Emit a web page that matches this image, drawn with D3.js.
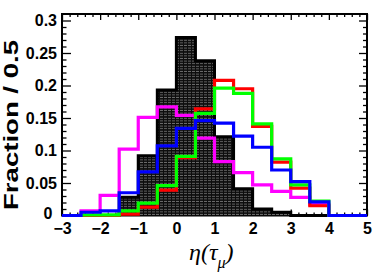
<!DOCTYPE html>
<html>
<head>
<meta charset="utf-8">
<script src="https://cdn.jsdelivr.net/npm/d3@7"></script>
<style>
  html, body { margin: 0; padding: 0; background: #fff; }
  svg { display: block; }
</style>
</head>
<body>
<svg id="chart" width="382" height="273"></svg>
<script>
// ---- data ----
const binEdges = [-3, -2.5, -2, -1.5, -1, -0.5, 0, 0.5, 1, 1.5, 2, 2.5, 3, 3.5, 4, 4.5, 5];
const blackHist = [0, 0, 0, 0.028, 0.092, 0.193, 0.274, 0.238, 0.121, 0.041, 0.010, 0.005, 0, 0, 0, 0];
const magentaHist = [0, 0.007, 0.031, 0.102, 0.151, 0.167, 0.154, 0.119, 0.083, 0.066, 0.047, 0.037, 0.028, 0.017, 0, 0];
const redHist = [0, 0, 0, 0.002, 0.013, 0.039, 0.089, 0.164, 0.208, 0.195, 0.137, 0.082, 0.042, 0.015, 0, 0];
const greenHist = [0, 0.001, 0.001, 0.007, 0.019, 0.046, 0.091, 0.157, 0.196, 0.188, 0.141, 0.087, 0.047, 0.022, 0, 0];
const blueHist = [0, 0.005, 0.007, 0.035, 0.067, 0.107, 0.134, 0.146, 0.142, 0.122, 0.105, 0.070, 0.052, 0.021, 0, 0];

const xMajorTicks = [-3, -2, -1, 0, 1, 2, 3, 4, 5];
const xTickLabels = ["\u22123", "\u22122", "\u22121", "0", "1", "2", "3", "4", "5"];
const yMajorTicks = [0, 0.05, 0.1, 0.15, 0.2, 0.25, 0.3];
const yTickLabels = ["0", "0.05", "0.1", "0.15", "0.2", "0.25", "0.3"];

// ---- layout ----
const L = 62, R = 367, T = 14, B = 215.5;
const svg = d3.select("#chart");
const x = d3.scaleLinear().domain([-3, 5]).range([L, R]);
const y = d3.scaleLinear().domain([0, 0.31]).range([B, T]);

const xMinor = d3.range(-3, 5.0001, 0.2).filter(v => Math.abs(v - Math.round(v)) > 1e-6);
const yMinor = d3.range(0, 0.305, 0.01).filter(v => Math.abs(v * 20 - Math.round(v * 20)) > 1e-6);

// pattern for black histogram
const defs = svg.append("defs");
const pat = defs.append("pattern").attr("id", "hatch")
  .attr("patternUnits", "userSpaceOnUse").attr("width", 4).attr("height", 2.6);
pat.append("rect").attr("width", 4).attr("height", 2.6).attr("fill", "#0d0d0d");
pat.append("rect").attr("x", 0).attr("y", 0.8).attr("width", 3).attr("height", 0.8).attr("fill", "#7a7a7a");

// frame
svg.append("rect").attr("x", L).attr("y", T).attr("width", R - L).attr("height", B - T)
  .attr("fill", "none").attr("stroke", "#000").attr("stroke-width", 2);

const fontAxis = "'Liberation Sans', Arial, Helvetica, sans-serif";

function styleAxis(g) {
  g.select(".domain").remove();
  g.selectAll(".tick line").attr("stroke", "#000").attr("stroke-width", 1.3);
  g.selectAll("text").attr("font-family", fontAxis).attr("font-size", 16)
    .attr("font-weight", "bold").attr("fill", "#000");
}

// left axis
const leftAxis = svg.append("g").attr("transform", `translate(${L},0)`)
  .call(d3.axisLeft(y).tickValues(yMajorTicks).tickSize(-9).tickPadding(5)
    .tickFormat((d, i) => yTickLabels[i]))
  .call(styleAxis);
// keep the "0" label clear of the "−3" label below it
leftAxis.selectAll(".tick text").filter(d => d === 0)
  .attr("x", -9.5).attr("dy", "0.2em");
svg.append("g").attr("transform", `translate(${L},0)`)
  .call(d3.axisLeft(y).tickValues(yMinor).tickSize(-4.5).tickFormat(""))
  .call(styleAxis);
// right axis
svg.append("g").attr("transform", `translate(${R},0)`)
  .call(d3.axisLeft(y).tickValues(yMajorTicks).tickSize(8).tickFormat(""))
  .call(styleAxis);
svg.append("g").attr("transform", `translate(${R},0)`)
  .call(d3.axisLeft(y).tickValues(yMinor).tickSize(4).tickFormat(""))
  .call(styleAxis);
// bottom axis
svg.append("g").attr("transform", `translate(0,${B})`)
  .call(d3.axisBottom(x).tickValues(xMajorTicks).tickSize(-6).tickPadding(7)
    .tickFormat((d, i) => xTickLabels[i]))
  .call(styleAxis);
svg.append("g").attr("transform", `translate(0,${B})`)
  .call(d3.axisBottom(x).tickValues(xMinor).tickSize(-3).tickFormat(""))
  .call(styleAxis);
// top axis
svg.append("g").attr("transform", `translate(0,${T})`)
  .call(d3.axisTop(x).tickValues(xMajorTicks).tickSize(-6).tickFormat(""))
  .call(styleAxis);
svg.append("g").attr("transform", `translate(0,${T})`)
  .call(d3.axisTop(x).tickValues(xMinor).tickSize(-3).tickFormat(""))
  .call(styleAxis);

// step path helper
function stepPoints(vals) {
  const pts = [];
  vals.forEach((v, i) => {
    pts.push([binEdges[i], v]);
    pts.push([binEdges[i + 1], v]);
  });
  return pts;
}
const line = d3.line().x(d => x(d[0])).y(d => y(d[1]));

// black filled histogram
const bpts = stepPoints(blackHist);
const area = d3.area().x(d => x(d[0])).y0(y(0)).y1(d => y(d[1]));
svg.append("path").datum(bpts).attr("d", area).attr("fill", "url(#hatch)");
svg.append("path").datum(bpts).attr("d", line)
  .attr("fill", "none").attr("stroke", "#000").attr("stroke-width", 3);

const series = [
  { vals: magentaHist, color: "#ff00ff" },
  { vals: redHist, color: "#ff0000" },
  { vals: greenHist, color: "#00ff00" },
  { vals: blueHist, color: "#0000ff" }
];
series.forEach(s => {
  svg.append("path").datum(stepPoints(s.vals)).attr("d", line)
    .attr("fill", "none").attr("stroke", s.color).attr("stroke-width", 3.2)
    .attr("stroke-linejoin", "miter");
});

// y title
svg.append("text")
  .attr("transform", "translate(18,125) rotate(-90)")
  .attr("text-anchor", "middle")
  .attr("font-family", fontAxis).attr("font-weight", "bold").attr("font-size", 21)
  .attr("textLength", 170).attr("lengthAdjust", "spacingAndGlyphs")
  .text("Fraction / 0.5");

// x title
const xt = svg.append("text")
  .attr("x", 189).attr("y", 260)
  .attr("font-family", "'Liberation Serif', 'Times New Roman', serif")
  .attr("font-style", "italic").attr("font-size", 24).attr("fill", "#000");
xt.append("tspan").text("\u03b7(\u03c4");
xt.append("tspan").attr("dy", 8).attr("font-size", 16).text("\u03bc");
xt.append("tspan").attr("dy", -8).text(")");
</script>
</body>
</html>
